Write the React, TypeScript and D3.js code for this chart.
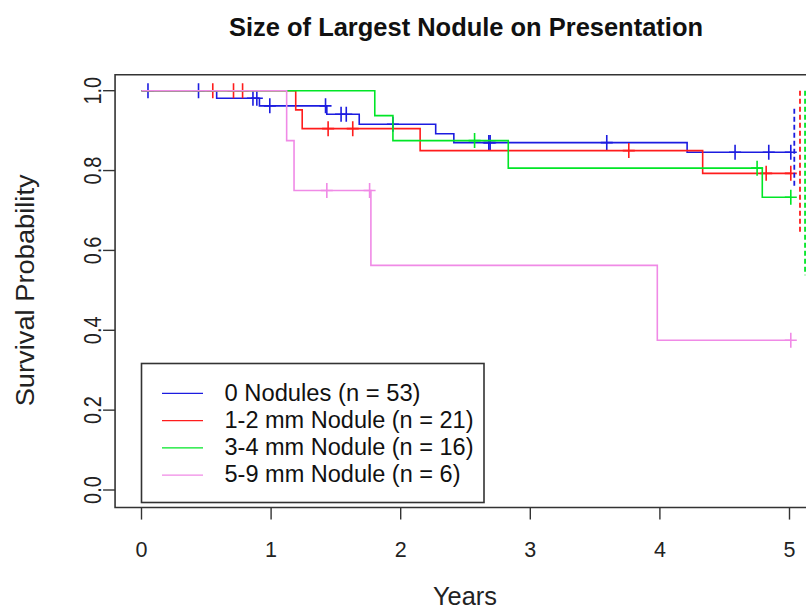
import { curveStepAfter, line, scaleLinear } from "d3";

const yearTicks = [0, 1, 2, 3, 4, 5];
const probTicks = [0, 0.2, 0.4, 0.6, 0.8, 1.0];

const groupLabels = [
  "0 Nodules (n = 53)",
  "1-2 mm Nodule (n = 21)",
  "3-4 mm Nodule (n = 16)",
  "5-9 mm Nodule (n = 6)",
];
const groupColors = ["#1c1ce0", "#ff1c1c", "#00e626", "#f08ae6"];

// step times and survival after each step
const noneTimes = [0.58, 0.91, 1.43, 1.68, 2.27, 2.41, 4.21];
const noneSurv = [0.981, 0.962, 0.941, 0.916, 0.892, 0.87, 0.846];
const noneCensor = [0.05, 0.44, 0.86, 0.89, 0.99, 1.42, 1.54, 1.58, 1.94, 2.68, 2.69, 3.59, 4.58, 4.84, 5.01];

const smallTimes = [1.19, 1.24, 2.15, 4.33];
const smallSurv = [0.952, 0.905, 0.85, 0.793];
const smallCensor = [0.55, 0.71, 0.78, 1.44, 1.63, 3.76, 4.82, 5.01];

const midTimes = [1.8, 1.94, 2.83, 4.79];
const midSurv = [0.9375, 0.875, 0.806, 0.733];
const midCensor = [2.57, 4.75, 5.01];

const largeTimes = [1.12, 1.177, 1.77, 3.98];
const largeSurv = [0.875, 0.75, 0.5625, 0.375];
const largeCensor = [1.43, 1.76, 5.01];

const lastTime = 5.01;

// confidence band ends drawn as dashed verticals at the right edge
const ciTimes = [5.037, 5.081, 5.12];
const ciLower = [0.757, 0.644, 0.538];
const ciUpper = [0.955, 1.0, 1.0];

const groups = [
  { times: noneTimes, surv: noneSurv, censor: noneCensor },
  { times: smallTimes, surv: smallSurv, censor: smallCensor },
  { times: midTimes, surv: midSurv, censor: midCensor },
  { times: largeTimes, surv: largeSurv, censor: largeCensor },
];

// measured text widths in the reference, to keep the slightly wide lettering
const legendWidths = [196, 249, 249, 236];

const font = "'Liberation Sans', Arial, sans-serif";

function survAt(times: number[], surv: number[], t: number) {
  let s = 1;
  times.forEach((tt, i) => {
    if (tt <= t) s = surv[i];
  });
  return s;
}

export default function App() {
  const x = scaleLinear().domain([0, 5]).range([141.5, 789.5]);
  const y = scaleLinear().domain([0, 1]).range([490, 90.7]);

  const boxLeft = x(-0.204);
  const boxTop = y(1.04);
  const boxBottom = y(-0.044);

  const path = line<[number, number]>()
    .x((d) => x(d[0]))
    .y((d) => y(d[1]))
    .curve(curveStepAfter);

  return (
    <svg
      width={806}
      height={610}
      style={{ position: "absolute", left: 0, top: 0, background: "#fff" }}
      fontFamily={font}
    >
      <text
        x={229}
        y={36}
        fontSize={25}
        fontWeight="bold"
        fill="#111"
        textLength={474}
        lengthAdjust="spacingAndGlyphs"
      >
        Size of Largest Nodule on Presentation
      </text>

      {/* frame */}
      <path
        d={`M${x(5.304)},${boxTop}H${boxLeft}V${boxBottom}H${x(5.304)}`}
        fill="none"
        stroke="#333"
        strokeWidth={1.6}
      />

      {/* y axis */}
      {probTicks.map((p) => (
        <g key={p}>
          <line x1={boxLeft - 12} x2={boxLeft} y1={y(p)} y2={y(p)} stroke="#333" strokeWidth={1.4} />
          <text
            transform={`translate(100.5,${y(p)}) scale(1.15,1) rotate(-90)`}
            textAnchor="middle"
            fontSize={20}
            fill="#222"
          >
            {p.toFixed(1)}
          </text>
        </g>
      ))}
      <text
        transform={`translate(34,${y(0.5)}) rotate(-90)`}
        x={-116}
        fontSize={25}
        fill="#222"
        textLength={232}
        lengthAdjust="spacingAndGlyphs"
      >
        Survival Probability
      </text>

      {/* x axis */}
      {yearTicks.map((t) => (
        <g key={t}>
          <line x1={x(t)} x2={x(t)} y1={boxBottom} y2={boxBottom + 12} stroke="#333" strokeWidth={1.4} />
          <text x={x(t)} y={557} textAnchor="middle" fontSize={21.5} fill="#222">
            {t}
          </text>
        </g>
      ))}
      <text
        x={433}
        y={605}
        fontSize={25}
        fill="#222"
        textLength={64}
        lengthAdjust="spacingAndGlyphs"
      >
        Years
      </text>

      {/* curves */}
      {groups.map((g, i) => {
        const pts: [number, number][] = [[0, 1]];
        g.times.forEach((t, j) => pts.push([t, g.surv[j]]));
        pts.push([lastTime, g.surv[g.surv.length - 1]]);
        return (
          <g key={i} stroke={groupColors[i]} strokeWidth={1.6} fill="none">
            <path d={path(pts) ?? ""} />
            {g.censor.map((c, k) => {
              const cx = x(c);
              const cy = y(survAt(g.times, g.surv, c));
              return (
                <path key={k} d={`M${cx},${cy - 7.5}V${cy + 7.5}M${cx - 6},${cy}H${cx + 6}`} />
              );
            })}
          </g>
        );
      })}

      {/* dashed ends */}
      {ciTimes.map((t, i) => (
        <line
          key={i}
          x1={x(t)}
          x2={x(t)}
          y1={y(ciUpper[i])}
          y2={y(ciLower[i])}
          stroke={groupColors[i]}
          strokeWidth={1.8}
          strokeDasharray="5,3"
        />
      ))}

      {/* legend */}
      <rect x={141.5} y={363.5} width={342.5} height={139} fill="#fff" stroke="#333" strokeWidth={1.6} />
      {groupLabels.map((label, i) => (
        <g key={label}>
          <line
            x1={162}
            x2={203}
            y1={393.3 + i * 27.3}
            y2={393.3 + i * 27.3}
            stroke={groupColors[i]}
            strokeWidth={1.3}
          />
          <text
            x={224.5}
            y={400.5 + i * 27.3}
            fontSize={23}
            fill="#111"
            textLength={legendWidths[i]}
            lengthAdjust="spacingAndGlyphs"
          >
            {label}
          </text>
        </g>
      ))}
    </svg>
  );
}
